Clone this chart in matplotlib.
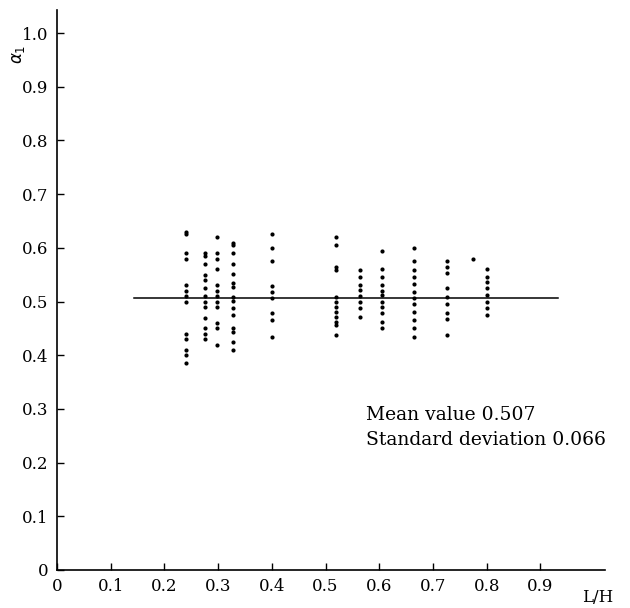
import numpy as np
import matplotlib.pyplot as plt

plt.rcParams['font.family'] = ['DejaVu Serif']

# L/H position of each test group and the alpha_1 values measured there
col_x = [0.240, 0.275, 0.297, 0.327, 0.400, 0.520, 0.565, 0.606, 0.665, 0.727, 0.800, 0.775]
col_y = [
    [0.630, 0.625, 0.590, 0.580, 0.530, 0.520, 0.510, 0.500, 0.440, 0.430, 0.410, 0.400, 0.385],
    [0.590, 0.585, 0.570, 0.550, 0.540, 0.525, 0.510, 0.500, 0.490, 0.470, 0.450, 0.440, 0.430],
    [0.620, 0.590, 0.580, 0.560, 0.530, 0.520, 0.510, 0.500, 0.490, 0.460, 0.450, 0.420],
    [0.610, 0.605, 0.590, 0.570, 0.551, 0.534, 0.527, 0.508, 0.501, 0.488, 0.475, 0.451, 0.443, 0.424, 0.410],
    [0.625, 0.600, 0.575, 0.529, 0.518, 0.507, 0.479, 0.466, 0.434],
    [0.620, 0.605, 0.565, 0.559, 0.508, 0.500, 0.490, 0.480, 0.471, 0.462, 0.456, 0.438],
    [0.559, 0.545, 0.531, 0.521, 0.510, 0.500, 0.488, 0.471],
    [0.595, 0.560, 0.545, 0.531, 0.520, 0.512, 0.499, 0.490, 0.479, 0.462, 0.451],
    [0.600, 0.575, 0.559, 0.546, 0.532, 0.518, 0.507, 0.495, 0.480, 0.466, 0.451, 0.434],
    [0.575, 0.565, 0.553, 0.525, 0.508, 0.495, 0.479, 0.467, 0.438],
    [0.560, 0.545, 0.536, 0.525, 0.512, 0.499, 0.488, 0.475],
    [0.580],
]

mean_val = 0.507
std_val = 0.066
mean_x = [0.143, 0.933]

xs = np.concatenate([[x] * len(ys) for x, ys in zip(col_x, col_y)])
ys = np.concatenate(col_y)

fig = plt.figure(figsize=(6.3, 6.08), dpi=100)
ax = fig.add_axes([0.0905, 0.0625, 0.8695, 0.921])

ax.plot(mean_x, [mean_val, mean_val], color='black', lw=1.1)
ax.plot(xs, ys, 'o', color='black', markersize=3.0, markeredgewidth=0)

ax.set_xlim(0, 1.02)
ax.set_ylim(0, 1.043)
ax.set_xticks(np.arange(0, 1.0, 0.1))
ax.set_yticks(np.arange(0, 1.01, 0.1))
ax.set_xticklabels(['0'] + ['%.1f' % v for v in np.arange(0.1, 1.0, 0.1)])
ax.set_yticklabels(['0'] + ['%.1f' % v for v in np.arange(0.1, 1.01, 0.1)])
ax.tick_params(direction='in', length=5, width=1, labelsize=12, pad=6)

for side in ['top', 'right']:
    ax.spines[side].set_visible(False)
for side in ['left', 'bottom']:
    ax.spines[side].set_linewidth(1.2)

fig.text(0.029, 0.91, r'$\alpha_1$', rotation=90, fontsize=12, ha='center', va='center')
fig.text(0.949, 0.018, 'L/H', fontsize=12, ha='center', va='center')

ax.text(0.576, 0.289, 'Mean value %.3f' % mean_val, fontsize=13.5, va='center')
ax.text(0.576, 0.242, 'Standard deviation %.3f' % std_val, fontsize=13.5, va='center')

fig.savefig('out.png', dpi=100)
